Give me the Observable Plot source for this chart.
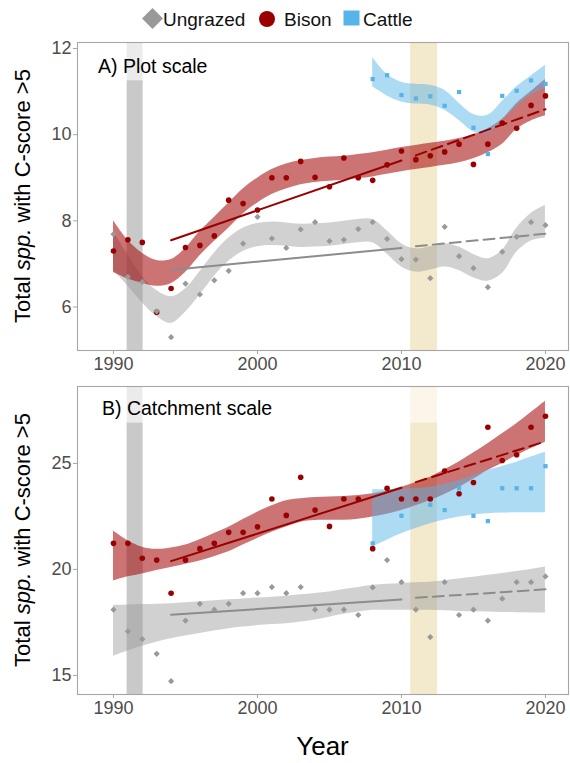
<!DOCTYPE html>
<html><head><meta charset="utf-8">
<script src="https://cdn.jsdelivr.net/npm/d3@7"></script>
<script src="https://cdn.jsdelivr.net/npm/@observablehq/plot@0.6"></script>
<style>
body{margin:0;width:570px;height:763px;position:relative;overflow:hidden;background:#fff;font-family:"Liberation Sans",Arial,Helvetica,sans-serif}
.leg{position:absolute;font-size:19px;line-height:19px;top:10px;color:#111;white-space:nowrap}
.sym{position:absolute}
#pa{position:absolute;top:35px;left:0}
#pb{position:absolute;top:380px;left:0}
#xt{position:absolute;left:77px;width:491px;top:733px;text-align:center;font-size:26px;line-height:26px;color:#000}
</style></head>
<body>
<div id="legend">
  <svg class="sym" style="left:141px;top:7px" width="23" height="23"><path d="M11.5,1 L22,11.5 L11.5,22 L1,11.5Z" fill="#999999"/></svg>
  <span class="leg" style="left:163px">Ungrazed</span>
  <svg class="sym" style="left:258px;top:10px" width="18" height="18"><circle cx="9" cy="9" r="8" fill="#990000"/></svg>
  <span class="leg" style="left:284px">Bison</span>
  <svg class="sym" style="left:343px;top:10px" width="17" height="16"><rect x="0.5" y="0.5" width="16" height="15" fill="#56B4E9"/></svg>
  <span class="leg" style="left:363px">Cattle</span>
</div>
<div id="pa"></div>
<div id="pb"></div>
<div id="xt">Year</div>
<script>
// ---------------- data ----------------
const years = [1990,1991,1992,1993,1994,1995,1996,1997,1998,1999,2000,2001,2002,2003,2004,2005,2006,2007,2008,2009,2010,2011,2012,2013,2014,2015,2016,2017,2018,2019,2020];
const cattleYears = [2008,2009,2010,2011,2012,2013,2014,2015,2016,2017,2018,2019,2020];
const xTicks = [1990,2000,2010,2020];

// Panel A: plot scale
const ungrazedA = [7.69,6.70,6.58,5.90,5.30,6.54,6.29,6.62,6.84,7.47,8.09,7.59,7.37,7.80,7.97,7.53,7.56,7.81,7.97,7.58,7.11,7.10,6.67,7.86,7.18,6.90,6.46,7.28,7.63,7.97,7.90];
const bisonA = [7.30,7.56,7.50,5.88,6.43,7.38,7.43,7.65,8.48,8.40,8.25,9.00,9.00,9.38,9.01,8.79,9.46,9.00,8.94,9.30,9.62,9.42,9.51,9.60,9.78,9.31,9.78,10.27,10.15,10.68,10.90];
const cattleA = [11.29,11.38,10.92,10.84,10.89,10.67,10.99,10.16,9.55,10.90,11.02,11.26,11.18];
const ungrazedA_lo = [6.85,6.49,6.10,5.78,5.62,5.88,6.28,6.71,7.06,7.29,7.40,7.43,7.41,7.38,7.39,7.41,7.45,7.49,7.49,7.23,6.93,6.81,6.86,6.93,6.85,6.68,6.60,6.78,7.27,7.53,7.60];
const ungrazedA_hi = [7.75,7.21,6.70,6.38,6.24,6.42,6.82,7.25,7.60,7.83,7.94,7.97,7.95,7.92,7.93,7.95,7.99,8.03,8.03,7.77,7.47,7.35,7.40,7.47,7.39,7.22,7.12,7.32,7.83,8.17,8.36];
const bisonA_lo = [6.80,6.65,6.55,6.48,6.54,6.80,7.19,7.52,7.83,8.16,8.41,8.61,8.74,8.84,8.89,8.92,8.94,8.98,9.02,9.08,9.14,9.19,9.24,9.29,9.35,9.44,9.58,9.78,10.12,10.32,10.44];
const bisonA_hi = [8.00,7.55,7.25,7.08,7.10,7.36,7.75,8.08,8.41,8.74,8.99,9.19,9.32,9.40,9.45,9.48,9.50,9.54,9.58,9.64,9.70,9.75,9.80,9.85,9.91,10.00,10.14,10.36,10.72,11.00,11.28];
const cattleA_lo = [11.11,10.90,10.76,10.71,10.69,10.57,10.33,10.07,10.03,10.33,10.65,10.92,11.07];
const cattleA_hi = [11.79,11.40,11.22,11.17,11.15,11.03,10.73,10.47,10.45,10.77,11.11,11.36,11.61];
const fitYears = [1994,2010,2011,2020];
const ungrazedA_fit = [6.86,7.37,7.41,7.70];
const bisonA_fit = [7.55,9.40,9.52,10.59];

// Panel B: catchment scale
const ungrazedB = [18.10,17.08,16.71,16.02,14.73,17.59,18.38,18.10,18.38,18.88,18.88,19.17,18.88,19.17,18.10,18.10,18.10,17.85,19.15,20.44,19.40,18.10,16.81,19.40,17.85,18.10,17.58,18.62,19.40,19.40,19.67];
const bisonB = [21.23,21.23,20.53,20.44,18.88,20.44,20.98,21.23,21.75,21.75,22.01,23.32,22.55,24.35,22.80,22.03,23.32,23.32,20.98,23.83,23.32,23.32,23.32,24.64,23.57,24.10,26.71,25.14,25.41,26.71,27.23];
const cattleB_years = [2008,2010,2012,2013,2014,2015,2016,2017,2018,2019,2020];
const cattleB = [21.23,22.53,23.05,22.80,23.83,22.53,22.28,23.83,23.83,23.83,24.87];
const ungrazedB_lo = [15.91,16.15,16.38,16.57,16.73,16.86,16.98,17.09,17.20,17.28,17.35,17.40,17.44,17.52,17.62,17.75,17.88,17.99,18.07,18.07,18.07,18.07,18.07,18.05,18.02,18.00,17.99,17.97,17.96,17.95,17.94];
const ungrazedB_hi = [18.30,18.32,18.34,18.36,18.38,18.43,18.48,18.52,18.57,18.61,18.65,18.69,18.73,18.80,18.87,18.93,19.05,19.15,19.25,19.30,19.34,19.37,19.40,19.47,19.55,19.63,19.72,19.81,19.90,20.00,20.11];
const bisonB_lo = [19.45,19.65,19.79,19.95,20.09,20.25,20.40,20.60,20.83,21.15,21.46,21.76,22.00,22.23,22.31,22.32,22.32,22.37,22.47,22.60,22.78,23.00,23.25,23.54,23.87,24.25,24.67,25.00,25.37,25.70,26.00];
const bisonB_hi = [21.81,21.35,21.05,20.95,21.01,21.15,21.40,21.70,21.99,22.35,22.70,23.00,23.24,23.33,23.39,23.42,23.44,23.49,23.57,23.70,23.88,24.10,24.35,24.70,25.07,25.49,25.93,26.40,26.87,27.40,27.94];
const cattleB_lo = [21.05,21.38,21.68,21.93,22.16,22.33,22.47,22.57,22.63,22.66,22.67,22.67,22.67];
const cattleB_hi = [23.76,23.76,23.78,23.82,23.88,24.02,24.20,24.42,24.67,24.86,25.06,25.30,25.53];
const ungrazedB_fit = [17.86,18.58,18.66,19.06];
const bisonB_fit = [20.39,23.85,24.12,26.04];

// grazing period bands
const bandStart = [1990.95, 2010.65];
const bandEnd = [1992.05, 2012.5];

// ---------------- helpers ----------------
const zip = (xs, ys) => xs.map((x, i) => ({x, y: ys[i]}));
const zip3 = (xs, lo, hi) => xs.map((x, i) => ({x, lo: lo[i], hi: hi[i]}));
const fitSolid = (xs, ys) => [{x: xs[0], y: ys[0]}, {x: xs[1], y: ys[1]}];
const fitDash = (xs, ys) => [{x: xs[2], y: ys[2]}, {x: xs[3], y: ys[3]}];

const GRAY = "#999999", RED = "#990000", BLUE = "#56B4E9";
const FONT = '"Liberation Sans", Arial, Helvetica, sans-serif';

function panel(cfg) {
  const bands = bandStart.map((s, i) => ({x1: s, x2: bandEnd[i], kind: i === 0 ? "gray" : "yellow"}));
  const svg = Plot.plot({
    width: 570, height: 345,
    marginLeft: 77, marginRight: 2, marginTop: cfg.mt, marginBottom: 345 - cfg.mt - 308,
    style: {fontFamily: FONT, fontSize: "18px", color: "#4d4d4d", background: "white"},
    x: {domain: [1987.5, 2021.6]},
    y: {domain: cfg.ydomain},
    marks: [
      Plot.rect(bands, {x1: "x1", x2: "x2", fill: d => d.kind === "gray" ? "#ebebeb" : cfg.yellowLight}),
      Plot.rect(bands, {x1: "x1", x2: "x2", y1: cfg.ydomain[0], y2: d => d.kind === "gray" ? cfg.grayCut : cfg.yellowCut, fill: d => d.kind === "gray" ? "#c9c9c9" : "#f3e9cc"}),
      Plot.areaY(zip3(years, cfg.uLo, cfg.uHi), {x: "x", y1: "lo", y2: "hi", fill: GRAY, fillOpacity: 0.45, curve: "catmull-rom"}),
      Plot.areaY(zip3(years, cfg.bLo, cfg.bHi), {x: "x", y1: "lo", y2: "hi", fill: "#a30000", fillOpacity: 0.55, curve: "catmull-rom"}),
      Plot.areaY(zip3(cattleYears, cfg.cLo, cfg.cHi), {x: "x", y1: "lo", y2: "hi", fill: BLUE, fillOpacity: 0.48, curve: "catmull-rom"}),
      Plot.line(fitSolid(fitYears, cfg.uFit), {x: "x", y: "y", stroke: "#8c8c8c", strokeWidth: 2}),
      Plot.line(fitDash(fitYears, cfg.uFit), {x: "x", y: "y", stroke: "#8c8c8c", strokeWidth: 2, strokeDasharray: "11,6"}),
      Plot.line(fitSolid(fitYears, cfg.bFit), {x: "x", y: "y", stroke: RED, strokeWidth: 2}),
      Plot.line(fitDash(fitYears, cfg.bFit), {x: "x", y: "y", stroke: RED, strokeWidth: 2, strokeDasharray: "11,6"}),
      Plot.dot(zip(years, cfg.b), {x: "x", y: "y", r: 2.8, fill: RED, symbol: "circle"}),
      Plot.dot(zip(cfg.cYears, cfg.c), {x: "x", y: "y", r: 2.7, fill: BLUE, symbol: "square2"}),
      Plot.dot(zip(years, cfg.u), {x: "x", y: "y", r: 2.8, fill: GRAY, symbol: "diamond2"}),
      Plot.frame({stroke: "#a6a6a6", strokeWidth: 1.1}),
      Plot.axisX({ticks: xTicks, tickFormat: d => String(d), tickSize: 4, tickPadding: 3, label: null, stroke: "#a6a6a6"}),
      Plot.axisY({ticks: cfg.yticks, tickFormat: d => String(d), tickSize: 4, tickPadding: 2, label: null, stroke: "#a6a6a6"})
    ]
  });
  const s = d3.select(svg);
  const cy = cfg.mt + 154;
  const t = s.append("text")
    .attr("transform", `translate(22,${cy}) rotate(-90)`)
    .attr("text-anchor", "middle").attr("dominant-baseline", "central")
    .attr("font-size", "22px").attr("fill", "#000").attr("font-family", FONT);
  t.append("tspan").text("Total ");
  t.append("tspan").attr("font-style", "italic").text("spp.");
  t.append("tspan").text(" with C-score >5");
  s.append("text").attr("x", cfg.lx).attr("y", cfg.ly)
    .attr("text-anchor", "start")
    .attr("font-size", "19.5px").attr("fill", "#000").attr("font-family", FONT)
    .text(cfg.label);
  return svg;
}

document.getElementById("pa").appendChild(panel({
  mt: 7, ydomain: [4.99, 12.14], yticks: [6, 8, 10, 12],
  grayCut: 11.25, yellowCut: 12.14, yellowLight: "#f3e9cc",
  u: ungrazedA, b: bisonA, c: cattleA, cYears: cattleYears,
  uLo: ungrazedA_lo, uHi: ungrazedA_hi, bLo: bisonA_lo, bHi: bisonA_hi, cLo: cattleA_lo, cHi: cattleA_hi,
  uFit: ungrazedA_fit, bFit: bisonA_fit,
  label: "A) Plot scale", lx: 98, ly: 37.7
}));
document.getElementById("pb").appendChild(panel({
  mt: 6, ydomain: [14.10, 28.63], yticks: [15, 20, 25],
  grayCut: 26.9, yellowCut: 26.9, yellowLight: "#fbf5ea",
  u: ungrazedB, b: bisonB, c: cattleB, cYears: cattleB_years,
  uLo: ungrazedB_lo, uHi: ungrazedB_hi, bLo: bisonB_lo, bHi: bisonB_hi, cLo: cattleB_lo, cHi: cattleB_hi,
  uFit: ungrazedB_fit, bFit: bisonB_fit,
  label: "B) Catchment scale", lx: 102, ly: 35
}));
</script>
</body></html>
